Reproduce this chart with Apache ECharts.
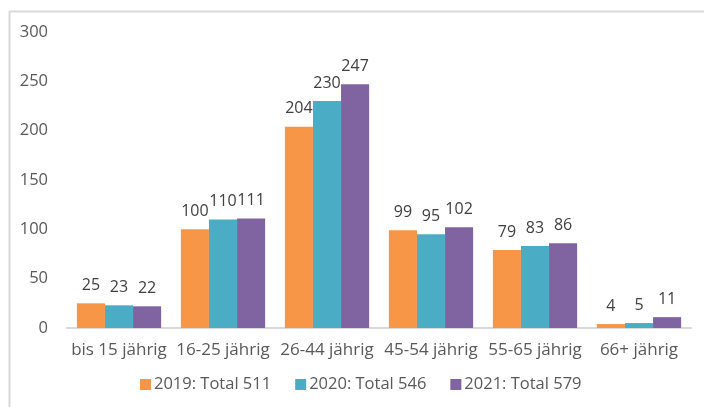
<!DOCTYPE html>
<html><head><meta charset="utf-8">
<script src="https://cdn.jsdelivr.net/npm/echarts@6/dist/echarts.min.js"></script>
<style>html,body{margin:0;padding:0;background:#fff}#c{width:704px;height:407px}</style>
</head><body><div id="c"></div>
<script>
const categories = ['bis 15 jährig','16-25 jährig','26-44 jährig','45-54 jährig','55-65 jährig','66+ jährig'];
const seriesNames = ['2019: Total 511','2020: Total 546','2021: Total 579'];
const v2019 = [25,100,204,99,79,4];
const v2020 = [23,110,230,95,83,5];
const v2021 = [22,111,247,102,86,11];
const colors = ['#F79646','#4BACC6','#8064A2'];
const font = '"Open Sans", "Noto Sans", sans-serif';
const chart = echarts.init(document.getElementById('c'), null, {renderer:'canvas'});
const mk = (name, data, color) => ({
  name, type:'bar', data, barGap:'0%', barCategoryGap:'19%',
  itemStyle:{color},
  label:{show:true, position:'top', color:'#404040', fontSize:16, fontFamily:font, distance:10}
});
chart.setOption({
  animation:false,
  textStyle:{fontFamily:font},
  graphic:[
    {type:'line', shape:{x1:9.5,y1:11,x2:9.5,y2:407}, style:{stroke:'#d9d9d9', lineWidth:2}},
    {type:'line', shape:{x1:9,y1:11.5,x2:704,y2:11.5}, style:{stroke:'#d9d9d9', lineWidth:2}}
  ],
  grid:{left:67, right:13, top:32, bottom:79, containLabel:false},
  legend:{bottom:9, left:135, itemWidth:11, itemHeight:11, itemGap:24,
    icon:'rect', textStyle:{color:'#595959', fontSize:16.5, fontFamily:font, padding:[0,0,0,-2]}},
  xAxis:{type:'category', data:categories,
    axisLine:{lineStyle:{color:'#d9d9d9', width:2}}, axisTick:{show:false},
    axisLabel:{color:'#595959', fontSize:17, fontFamily:font, margin:14, interval:0}},
  yAxis:{type:'value', min:0, max:300, interval:50,
    splitLine:{show:false}, axisLine:{show:false}, axisTick:{show:false},
    axisLabel:{color:'#595959', fontSize:16.5, fontFamily:font, margin:19}},
  series:[mk(seriesNames[0], v2019, colors[0]), mk(seriesNames[1], v2020, colors[1]), mk(seriesNames[2], v2021, colors[2])]
});
</script></body></html>
